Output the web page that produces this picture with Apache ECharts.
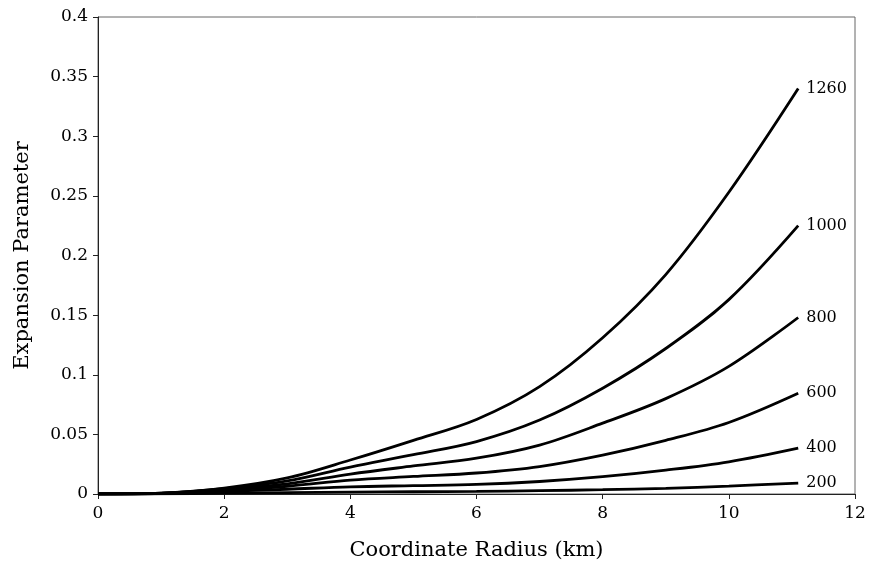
<!DOCTYPE html>
<html>
<head>
<meta charset="utf-8">
<script src="https://cdn.jsdelivr.net/npm/echarts@6/dist/echarts.min.js"></script>
<style>
html, body { margin: 0; padding: 0; background: #fff; }
#main { width: 869px; height: 569px; }
</style>
</head>
<body>
<div id="main"></div>
<script>
// radius (km)
var radius = [0, 1, 2, 3, 4, 5, 6, 7, 8, 9, 10, 11.1];
var names = ['1260', '1000', '800', '600', '400', '200'];
var v1260 = [0, 0.0008, 0.005, 0.0135, 0.0285, 0.045, 0.0625, 0.090, 0.131, 0.184, 0.253, 0.340];
var v1000 = [0, 0.0007, 0.0045, 0.011, 0.0226, 0.033, 0.0440, 0.062, 0.0887, 0.122, 0.163, 0.225];
var v800 = [0, 0.0006, 0.004, 0.0085, 0.0167, 0.0235, 0.0300, 0.041, 0.0594, 0.080, 0.107, 0.148];
var v600 = [0, 0.0005, 0.0033, 0.0065, 0.0117, 0.0147, 0.0176, 0.0230, 0.0326, 0.045, 0.060, 0.0845];
var v400 = [0, 0.0003, 0.0022, 0.004, 0.0060, 0.0070, 0.0080, 0.0105, 0.0145, 0.020, 0.027, 0.0385];
var v200 = [0, 0.0001, 0.0008, 0.0012, 0.0016, 0.0019, 0.0022, 0.0028, 0.0036, 0.0048, 0.0066, 0.0092];
var yTicks = ['0', '0.05', '0.1', '0.15', '0.2', '0.25', '0.3', '0.35', '0.4'];

var allValues = [v1260, v1000, v800, v600, v400, v200];
var font = 'DejaVu Serif';

function pairs(vals) {
	return radius.map(function (r, i) { return [r, vals[i]]; });
}

var series = names.map(function (n, k) {
	return {
		name: n,
		type: 'line',
		data: pairs(allValues[k]),
		smooth: 0.35,
		showSymbol: false,
		lineStyle: { color: '#000', width: 2.8 },
		endLabel: {
			show: true,
			formatter: '{a}',
			color: '#000',
			fontFamily: font,
			fontSize: 16,
			distance: 8
		}
	};
});

var myChart = echarts.init(document.getElementById('main'));
var option = {
	animation: false,
	backgroundColor: '#fff',
	grid: {
		left: 98,
		right: 14,
		top: 17,
		bottom: 75,
		show: true,
		borderColor: '#666',
		borderWidth: 1
	},
	xAxis: {
		type: 'value',
		min: 0,
		max: 12,
		interval: 2,
		name: 'Coordinate Radius (km)',
		nameLocation: 'middle',
		nameGap: 46,
		nameTextStyle: { color: '#000', fontFamily: font, fontSize: 21 },
		axisLine: { lineStyle: { color: '#222', width: 1 } },
		axisTick: { show: true, length: 5, lineStyle: { color: '#222' } },
		axisLabel: { color: '#000', fontFamily: font, fontSize: 17, margin: 11 },
		splitLine: { show: false }
	},
	yAxis: {
		type: 'value',
		min: 0,
		max: 0.4,
		interval: 0.05,
		name: 'Expansion Parameter',
		nameLocation: 'middle',
		nameGap: 65,
		nameTextStyle: { color: '#000', fontFamily: font, fontSize: 21 },
		axisLine: { show: true, lineStyle: { color: '#222', width: 1 } },
		axisTick: { show: true, length: 5, lineStyle: { color: '#222' } },
		axisLabel: {
			color: '#000', fontFamily: font, fontSize: 17, margin: 10,
			formatter: function (v) { return yTicks[Math.round(v / 0.05)]; }
		},
		splitLine: { show: false }
	},
	series: series
};
myChart.setOption(option);
</script>
</body>
</html>
